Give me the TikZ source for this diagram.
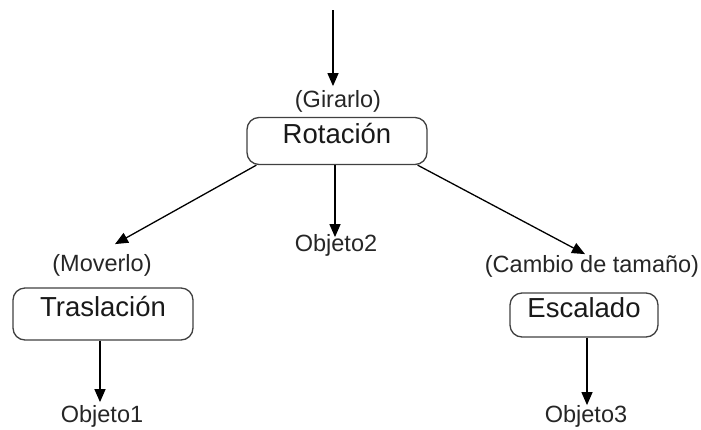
\documentclass[tikz,border=0pt]{standalone}
\usepackage{fontspec}
\setmainfont{Liberation Sans}
\usetikzlibrary{arrows.meta,calc}
\begin{document}
\begin{tikzpicture}[x=1pt,y=-1pt,
  arr/.style={line width=1.3pt,-{Triangle[length=13pt,width=11pt]}},
  opbox/.style={draw=black!75,line width=1.3pt,rounded corners=12pt,inner sep=0pt,
    font=\fontsize{27.5}{28}\selectfont,text=black!90,text height=0.72em,text depth=0.25em},
  lbl/.style={inner sep=0pt,font=\fontsize{23.5}{24}\selectfont,text=black!85,
    text height=0.72em,text depth=0.22em}]
\useasboundingbox (0,0) rectangle (701,429);
\coordinate (top) at (333,10);
\node[lbl] (gir) at (338,105) {(Girarlo)};
\node[opbox,minimum width=180pt,minimum height=47pt] (rot) at (337,141) {Rotación};
\node[lbl] (obj2) at (336,249) {Objeto2};
\node[lbl] (mov) at (102,269) {(Moverlo)};
\node[opbox,minimum width=180pt,minimum height=52pt] (tra) at (103,314) {Traslación};
\node[lbl] (obj1) at (102,420) {Objeto1};
\node[lbl] (cam) at (592,270) {(Cambio de tamaño)};
\node[opbox,minimum width=148pt,minimum height=44pt] (esc) at (584,315) {Escalado};
\node[lbl] (obj3) at (586,420) {Objeto3};
\draw[arr] (top) -- ($(gir.north)+(-5,-14)$);
\draw[arr] ($(rot.south west)+(10,0)$) -- ($(mov.north)+(13,-20)$);
\draw[arr] ($(rot.south)+(-2,0)$) -- ($(obj2.north)+(-1,-7)$);
\draw[arr] ($(rot.south east)+(-10,0)$) -- ($(cam.north)+(-7,-11)$);
\draw[arr] ($(tra.south)+(-3,0)$) -- ($(obj1.north)+(-2,-13)$);
\draw[arr] ($(esc.south)+(3,0)$) -- ($(obj3.north)+(1,-10)$);
\end{tikzpicture}
\end{document}
